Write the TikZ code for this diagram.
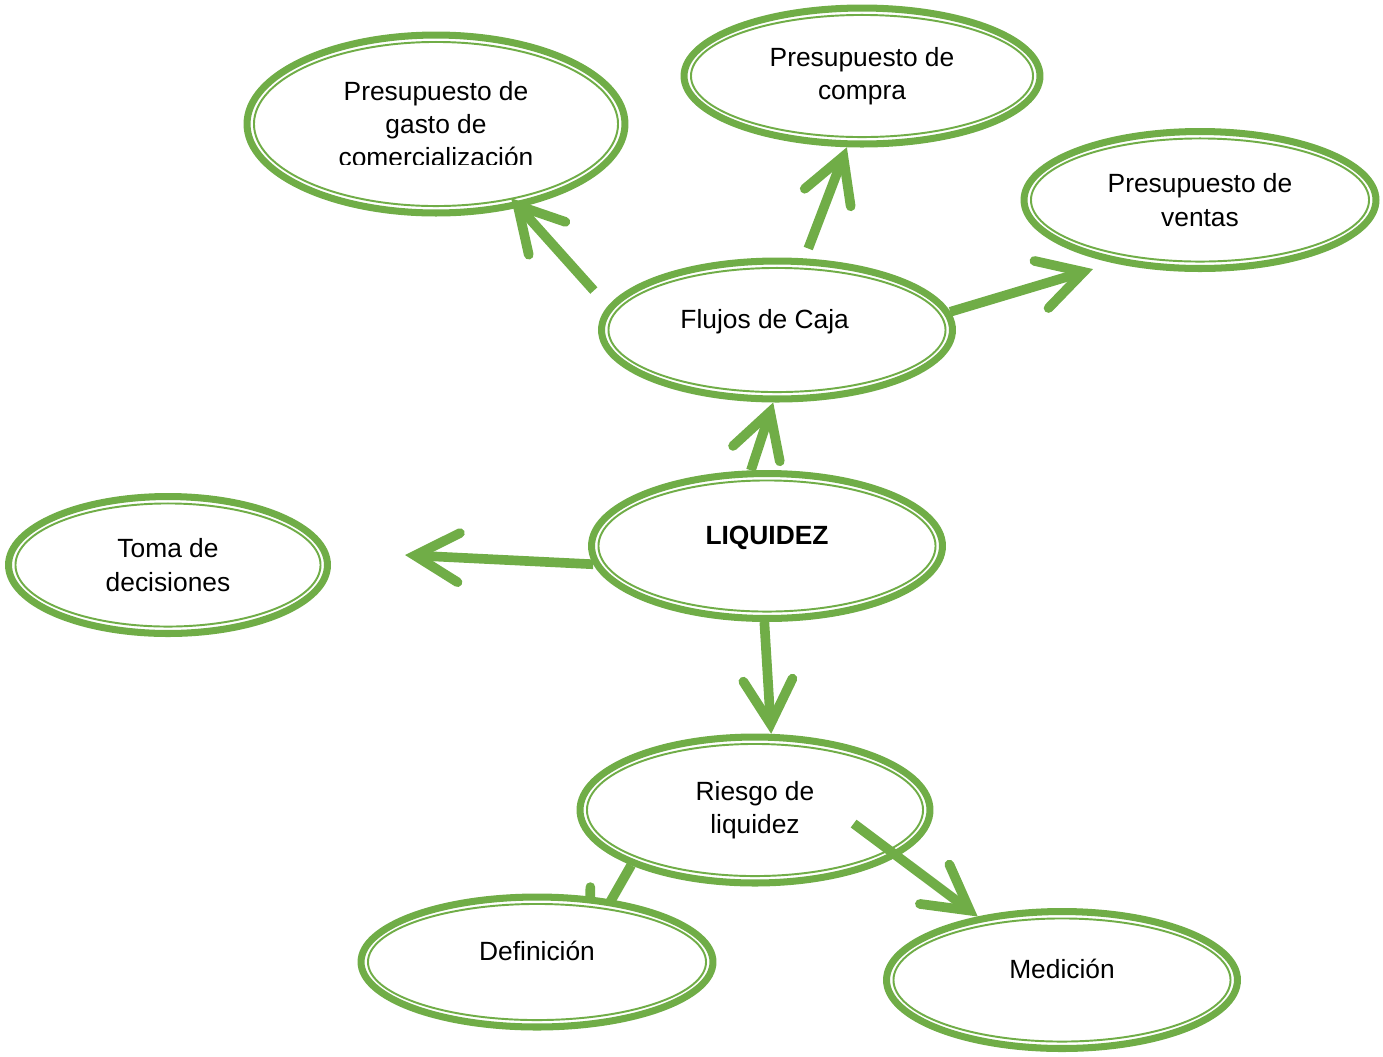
\documentclass[tikz,border=0pt]{standalone}
\usepackage{fontspec}
\setmainfont{Liberation Sans}
\usetikzlibrary{arrows.meta,shapes.geometric,calc}
\definecolor{verde}{RGB}{112,173,71}
\pgfdeclarelayer{fondo}
\pgfsetlayers{fondo,main}
\begin{document}
\begin{tikzpicture}[x=.02cm,y=-.02cm,
  globo/.style={ellipse,draw=verde,line width=4pt,fill=white,inner sep=0pt,align=center,
    font=\fontsize{15}{19}\selectfont,
    path picture={\draw[verde,line width=1.1pt] let \p1=(path picture bounding box.north east),\p2=(path picture bounding box.center) in (\p2) ellipse [x radius=\x1-\x2-3.95pt,y radius=\y1-\y2-3.95pt];}},
  arriba/.style={text height=11pt,text depth=13pt},
  flecha/.style={draw=verde,line width=5.5pt,-{Straight Barb[length=25pt,width=28pt,line cap=round,line join=miter]}}]
\useasboundingbox (0,0) rectangle (1383,1056);
\node[globo,minimum width=7.56cm,minimum height=3.56cm] (gas) at (436,124) {Presupuesto de\\gasto de\\comercialización};
\node[globo,minimum width=7.12cm,minimum height=2.72cm] (com) at (862,76) {Presupuesto de\\compra};
\node[globo,minimum width=7.04cm,minimum height=2.74cm] (ven) at (1200,200) {Presupuesto de\\ventas};
\node[globo,arriba,minimum width=7.02cm,minimum height=2.76cm] (flu) at (777,330) {Flujos de Caja\hspace*{14pt}};
\node[globo,arriba,minimum width=7.02cm,minimum height=2.9cm,font=\fontsize{15}{19}\selectfont\bfseries] (liq) at (767,546) {LIQUIDEZ};
\node[globo,minimum width=6.38cm,minimum height=2.74cm] (tom) at (168,565) {Toma de\\decisiones};
\node[globo,minimum width=7cm,minimum height=2.92cm] (rie) at (755,810) {Riesgo de\\liquidez};
\node[globo,arriba,minimum width=7.04cm,minimum height=2.6cm] (def) at (537,962) {Definición};
\node[globo,arriba,minimum width=7.02cm,minimum height=2.74cm] (med) at (1062,980) {Medición};
\fill[white] (330,165) rectangle (545,180);
\coordinate (tomflecha) at (405,555);
\coordinate (defflecha) at (585,946);
\begin{pgfonlayer}{fondo}
\draw[flecha] (rie.204) -- (defflecha);
\end{pgfonlayer}
\draw[flecha] (liq.102) -- (flu.267);
\draw[flecha,shorten <=12pt,shorten >=-7pt] (flu.172) -- (gas.-45);
\draw[flecha,shorten <=6pt] (flu.69) -- (com.258);
\draw[flecha,shorten >=12pt] (flu.6) -- (ven.216);
\draw[flecha] (liq.186) -- (tomflecha);
\draw[flecha] (liq.268) -- (rie.78);
\draw[flecha,shorten <=-31pt] (rie.-18) -- (med.143);
\end{tikzpicture}
\end{document}
